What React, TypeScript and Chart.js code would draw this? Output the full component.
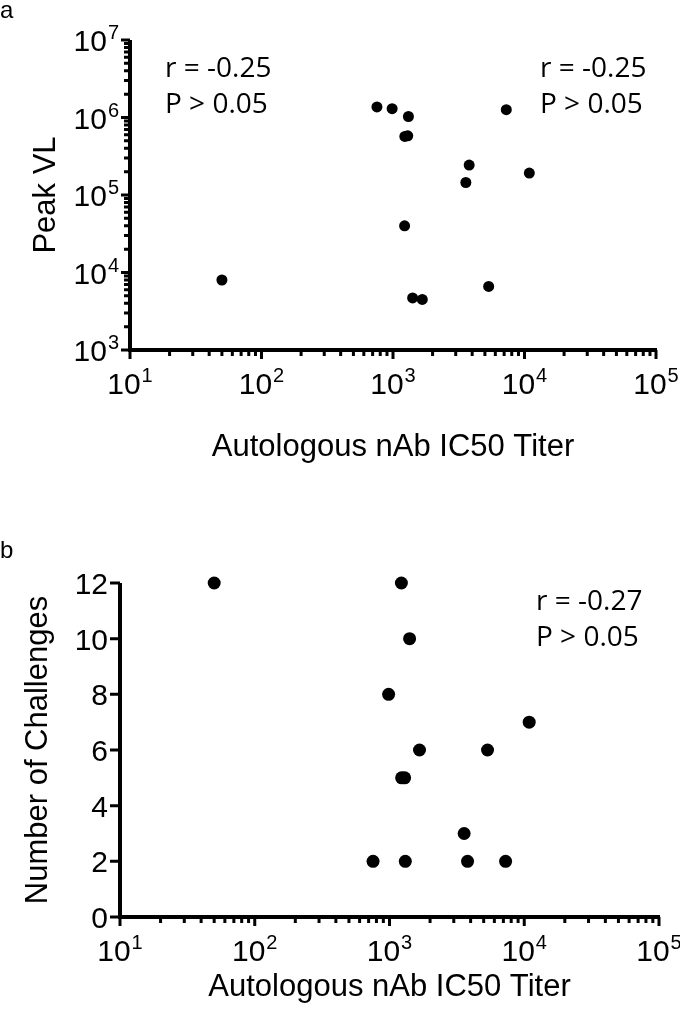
import React, { useEffect, useRef } from 'react';
import { Chart, registerables } from 'chart.js';

Chart.register(...registerables);

// ---- data ----
const titers = [50, 755, 985, 1225, 1230, 1295, 1310, 1410, 1670, 3580, 3795, 5340, 7270, 10880];
const peakVL = [8.0e3, 1.37e6, 1.3e6, 4.0e4, 5.7e5, 5.8e5, 1.03e6, 4.7e3, 4.5e3, 1.45e5, 2.43e5, 6.6e3, 1.26e6, 1.92e5];
const challenges = [12, 2, 8, 12, 5, 5, 2, 10, 6, 3, 2, 6, 2, 7];

const xTickExponents = [1, 2, 3, 4, 5];
const vlTickExponents = [3, 4, 5, 6, 7];
const challengeTicks = [0, 2, 4, 6, 8, 10, 12];

const xTitle = 'Autologous nAb IC50 Titer';
const vlTitle = 'Peak VL';
const chTitle = 'Number of Challenges';
const vlStatsLeft = ['r = -0.25', 'P > 0.05'];
const vlStatsRight = ['r = -0.25', 'P > 0.05'];
const chStats = ['r = -0.27', 'P > 0.05'];

const SANS = '"Liberation Sans", Arial, sans-serif';
const STAT_FONT = '"Open Sans", sans-serif';

type Deco = {
  yLog: boolean;
  yExps: number[];
  yLin: number[];
  yTitle: string;
  yTitleX: number;
  xTitleY: number;
  stats: { x: number; y: number; lines: string[] }[];
};

function drawPow(ctx: CanvasRenderingContext2D, exp: number, x: number, baseline: number, align: 'center' | 'right') {
  ctx.font = `30px ${SANS}`;
  const w10 = ctx.measureText('10').width;
  ctx.font = `20px ${SANS}`;
  const ws = ctx.measureText(String(exp)).width;
  const total = w10 + 1 + ws;
  const start = align === 'center' ? x - total / 2 : x - total;
  ctx.textAlign = 'left';
  ctx.textBaseline = 'alphabetic';
  ctx.font = `30px ${SANS}`;
  ctx.fillText('10', start, baseline);
  ctx.font = `20px ${SANS}`;
  ctx.fillText(String(exp), start + w10 + 1, baseline - 12);
}

const decoPlugin = {
  id: 'deco',
  afterDraw(chart: any, _args: any, opts: Deco) {
    const ctx: CanvasRenderingContext2D = chart.ctx;
    const xs = chart.scales.x;
    const ys = chart.scales.y;
    const a = chart.chartArea;
    const MAJ = 9;
    const MIN = 6;
    ctx.save();
    ctx.strokeStyle = '#000';
    ctx.fillStyle = '#000';
    // axis lines
    ctx.lineWidth = 4;
    ctx.beginPath();
    ctx.moveTo(a.left, a.top);
    ctx.lineTo(a.left, a.bottom + 2);
    ctx.moveTo(a.left - 2, a.bottom);
    ctx.lineTo(a.right + 1, a.bottom);
    ctx.stroke();

    // x ticks (log)
    ctx.lineWidth = 3;
    ctx.beginPath();
    xTickExponents.forEach((e, i) => {
      const v = Math.pow(10, e);
      const px = xs.getPixelForValue(v);
      ctx.moveTo(px, a.bottom);
      ctx.lineTo(px, a.bottom + MAJ);
      if (i < xTickExponents.length - 1) {
        for (let k = 2; k <= 9; k++) {
          const mp = xs.getPixelForValue(k * v);
          ctx.moveTo(mp, a.bottom);
          ctx.lineTo(mp, a.bottom + MIN);
        }
      }
    });
    // y ticks
    if (opts.yLog) {
      opts.yExps.forEach((e, i) => {
        const v = Math.pow(10, e);
        const py = ys.getPixelForValue(v);
        ctx.moveTo(a.left, py);
        ctx.lineTo(a.left - MAJ, py);
        if (i < opts.yExps.length - 1) {
          for (let k = 2; k <= 9; k++) {
            const mp = ys.getPixelForValue(k * v);
            ctx.moveTo(a.left, mp);
            ctx.lineTo(a.left - MIN, mp);
          }
        }
      });
    } else {
      opts.yLin.forEach((v) => {
        const py = ys.getPixelForValue(v);
        ctx.moveTo(a.left, py);
        ctx.lineTo(a.left - MAJ - 1, py);
      });
    }
    ctx.stroke();

    // x tick labels
    xTickExponents.forEach((e) => {
      const px = xs.getPixelForValue(Math.pow(10, e));
      drawPow(ctx, e, px, a.bottom + 44, 'center');
    });
    // y tick labels
    if (opts.yLog) {
      opts.yExps.forEach((e) => {
        const py = ys.getPixelForValue(Math.pow(10, e));
        drawPow(ctx, e, a.left - 11, py + 11, 'right');
      });
    } else {
      ctx.font = `30px ${SANS}`;
      ctx.textAlign = 'right';
      ctx.textBaseline = 'alphabetic';
      opts.yLin.forEach((v) => {
        const py = ys.getPixelForValue(v);
        ctx.fillText(String(v), a.left - 12, py + 11);
      });
    }

    // titles
    ctx.font = `31px ${SANS}`;
    ctx.textAlign = 'center';
    ctx.textBaseline = 'alphabetic';
    ctx.fillText(xTitle, (a.left + a.right) / 2, opts.xTitleY);
    ctx.save();
    ctx.translate(opts.yTitleX, (a.top + a.bottom) / 2);
    ctx.rotate(-Math.PI / 2);
    ctx.fillText(opts.yTitle, 0, 0);
    ctx.restore();

    // stats
    ctx.font = `28px ${STAT_FONT}`;
    ctx.textAlign = 'left';
    opts.stats.forEach((s) => {
      s.lines.forEach((ln, i) => ctx.fillText(ln, s.x, s.y + i * 36));
    });
    ctx.restore();
  },
};

function useScatter(
  ref: React.RefObject<HTMLCanvasElement | null>,
  yVals: number[],
  yLog: boolean,
  yMin: number,
  yMax: number,
  padding: { left: number; right: number; top: number; bottom: number },
  radius: number,
  deco: Deco
) {
  useEffect(() => {
    if (!ref.current) return;
    const chart = new Chart(ref.current, {
      type: 'scatter',
      data: {
        datasets: [
          {
            data: titers.map((t, i) => ({ x: t, y: yVals[i] })),
            backgroundColor: '#000',
            borderColor: '#000',
            pointRadius: radius,
            pointHoverRadius: radius,
            borderWidth: 0,
            clip: false as any,
          },
        ],
      },
      options: {
        animation: false,
        responsive: false,
        events: [],
        layout: { padding, autoPadding: false } as any,
        plugins: {
          legend: { display: false },
          tooltip: { enabled: false },
          deco: deco as any,
        } as any,
        scales: {
          x: { type: 'logarithmic', min: 10, max: 100000, display: false },
          y: yLog
            ? { type: 'logarithmic', min: yMin, max: yMax, display: false }
            : { type: 'linear', min: yMin, max: yMax, display: false },
        },
      },
      plugins: [decoPlugin as any],
    });
    return () => chart.destroy();
  }, []);
}

export default function App() {
  const topRef = useRef<HTMLCanvasElement>(null);
  const botRef = useRef<HTMLCanvasElement>(null);

  useScatter(
    topRef,
    peakVL,
    true,
    1e3,
    1e7,
    { left: 130, right: 24, top: 40, bottom: 155 },
    5.5,
    {
      yLog: true,
      yExps: vlTickExponents,
      yLin: [],
      yTitle: vlTitle,
      yTitleX: 55,
      xTitleY: 456,
      stats: [
        { x: 165, y: 77, lines: vlStatsLeft },
        { x: 540, y: 77, lines: vlStatsRight },
      ],
    }
  );
  useScatter(
    botRef,
    challenges,
    false,
    0,
    12,
    { left: 120, right: 21, top: 78, bottom: 93 },
    6.5,
    {
      yLog: false,
      yExps: [],
      yLin: challengeTicks,
      yTitle: chTitle,
      yTitleX: 47,
      xTitleY: 491,
      stats: [{ x: 536, y: 105, lines: chStats }],
    }
  );

  const letter: React.CSSProperties = {
    position: 'absolute',
    left: 0,
    fontFamily: SANS,
    fontSize: 24,
    lineHeight: '24px',
    margin: 0,
  };

  return (
    <div style={{ position: 'absolute', left: 0, top: 0, width: 680, height: 1010, background: '#fff' }}>
      <canvas ref={topRef} width={680} height={505} style={{ position: 'absolute', left: 0, top: 0 }} />
      <canvas ref={botRef} width={680} height={505} style={{ position: 'absolute', left: 0, top: 505 }} />
      <div style={{ ...letter, top: -2 }}>a</div>
      <div style={{ ...letter, top: 538 }}>b</div>
    </div>
  );
}
